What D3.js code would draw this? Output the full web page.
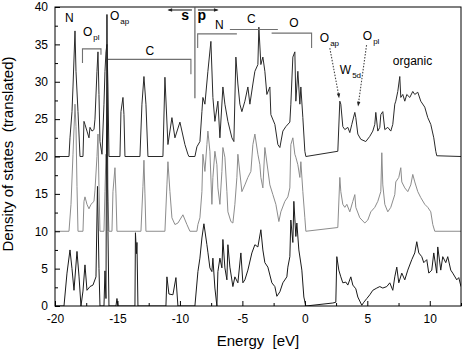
<!DOCTYPE html>
<html>
<head>
<meta charset="utf-8">
<script src="https://cdn.jsdelivr.net/npm/d3@7"></script>
<style>
  body { margin: 0; background: #fff; }
  svg text { font-family: "Liberation Sans", Arial, sans-serif; }
</style>
</head>
<body>
<svg id="dos" width="463" height="351"></svg>
<script>
// energy grid (eV) and density of states for each curve; curves are shifted by offsets
const topE = [-20,-18.88,-18.8,-18.64,-18.56,-18.4,-18.32,-18.16,-18,-17.76,-17.68,-17.6,-17.44,-17.28,-17.2,-17.04,-16.88,-16.8,-16.64,-16.56,-16.48,-16.4,-16.24,-16.08,-16,-15.92,-15.84,-15.76,-15.68,-14.8,-14.72,-14.56,-14.48,-14.4,-13.2,-13.04,-12.88,-12.72,-12.56,-11.36,-11.2,-10.96,-10.64,-10.4,-10,-9.6,-9.36,-9.28,-8.8,-8.64,-8.4,-8.24,-8.16,-8,-7.76,-7.52,-7.36,-7.2,-6.96,-6.8,-6.56,-6.4,-6.16,-5.84,-5.68,-5.52,-5.36,-5.2,-5.04,-4.8,-4.56,-4.4,-4.16,-4,-3.76,-3.68,-3.52,-3.36,-3.2,-3.04,-2.8,-2.72,-2.4,-2.16,-2,-1.76,-1.52,-1.2,-1.12,-0.96,-0.8,-0.72,-0.56,-0.4,-0.32,-0.16,0,0.08,2.64,2.8,2.88,3.04,3.2,3.44,3.6,3.76,4,4.08,4.24,4.48,4.88,5.2,5.44,5.6,5.68,5.84,6,6.08,6.24,6.4,6.64,6.88,7.04,7.2,7.28,7.44,7.6,7.68,7.84,8,8.16,8.4,8.64,8.8,9.04,9.28,9.6,9.84,10.08,10.32,10.48,10.56,12.5];
const topDos = [0,0,2.5,6,9.3,16.8,11.4,6,0,0,4.7,4.3,3.4,2.5,3.9,3.4,3.6,5,11.4,14,8.3,2,0.3,7,11.4,14,15,9.3,0,0,6,7.9,5.6,0,0,7,10.7,7,0,0,10.6,1.6,5.2,2.5,4.6,1.6,0.3,0,0,1.3,2,6,7.9,7,11.4,15.4,7.9,4.7,7.4,2.5,9.3,7,4.7,2.5,2,13.3,9.7,7,6,7.4,9.3,7,9.7,11.4,12.3,17.3,12.3,13.3,11.4,8.3,9.3,5.6,4.3,1.6,1.2,3.4,4,4.6,7,13.3,14,7.4,11.4,7,9.3,5.2,0.7,0,0.7,7.4,7,4,3.6,3.9,3.2,4.3,5.9,5.2,3,2.3,2,2.7,3.4,4.3,5.9,3.4,3.9,5.6,6,3.6,3.9,3.4,4.3,7,7.4,8.7,10.7,7.9,8.3,7.4,8.3,7.9,8.7,8.3,8.6,7.4,6.6,5.2,4.3,2.5,0.7,0.1,0];

const midE = [-20,-18.88,-18.72,-18.56,-18.4,-18.32,-18.24,-18.16,-17.76,-17.68,-17.6,-17.44,-17.28,-17.12,-16.88,-16.8,-16.64,-16.56,-16.48,-16.4,-16.08,-16,-15.92,-15.84,-15.76,-15.68,-15.44,-15.36,-15.2,-15.12,-15.04,-13.12,-12.96,-12.88,-12.8,-12.72,-11.2,-11.04,-10.96,-10.8,-10.64,-10.4,-10.16,-9.76,-9.44,-9.2,-8.64,-8.56,-8.4,-8.24,-8.16,-8,-7.84,-7.76,-7.6,-7.44,-7.36,-7.2,-7.04,-6.96,-6.8,-6.64,-6.56,-6.4,-6.24,-6.16,-5.92,-5.76,-5.6,-5.44,-5.36,-5.04,-4.8,-4.56,-4.32,-4.16,-4,-3.76,-3.6,-3.52,-3.36,-3.2,-2.8,-2.56,-2.32,-2.08,-1.92,-1.6,-1.36,-1.2,-1.12,-0.96,-0.8,-0.72,-0.56,-0.4,-0.32,-0.16,0,0.08,2.64,2.8,2.88,3.04,3.2,3.36,3.6,3.84,4,4.08,4.4,4.8,5.04,5.28,5.6,5.84,6.08,6.16,6.24,6.4,6.64,6.88,7.2,7.28,7.52,7.68,7.76,8,8.24,8.48,8.64,8.8,9.04,9.28,9.6,9.84,10.08,10.24,10.4,12.5];
const midDos = [0,0,3.6,10.3,17,14,6,0,0,4,4.6,3.6,3,3.6,4,5.5,10,13,6,0,0,5.3,10.3,8,4,0,0,5.3,8.5,5,0,0,6,9.5,5,0,0,6.2,9.3,5.3,1.8,0.9,1.1,2.2,0.9,0,0,0.9,1.8,5.3,10.3,8,11.6,13.4,10.7,3.6,7.2,10.7,8.9,5.8,3.6,8,11.2,9.9,5.3,2.6,1.3,1.1,3.6,7.2,10.3,5.3,6.2,7.2,8,11.6,13,10.3,8.9,7.2,5.8,11.2,6.2,4.9,3.6,1.3,2.6,4,4.6,5.8,11.6,12.5,10.3,9.9,8.9,7.2,9.3,5.3,1.8,0,0.5,7.2,5.3,3.6,3.2,3.6,2.6,4,4.9,3.2,1.8,1.1,1.5,2.6,3.2,4,5.3,10.5,6.2,3.6,2.6,3.2,4.9,6.6,7.2,8.5,6.6,5.8,5.3,6.2,7.6,6.6,5.3,4.5,3.6,3.2,2.6,0.9,0,0];

const botE = [-20,-19.28,-19.04,-18.8,-18.64,-18.48,-18.24,-18.08,-17.92,-17.76,-17.6,-17.44,-17.2,-16.96,-16.72,-16.6,-16.48,-16.4,-16.08,-16,-15.92,-15.84,-15.76,-15.68,-15.12,-15.04,-14.96,-13.6,-13.56,-13.48,-13.44,-13.36,-11.12,-11.04,-10.88,-10.56,-10.32,-10.16,-8.8,-8.56,-8.4,-8.24,-8.08,-7.84,-7.76,-7.6,-7.44,-7.36,-7.2,-7.04,-6.96,-6.8,-6.64,-6.56,-6.4,-6.24,-6.16,-6,-5.76,-5.6,-5.36,-5.12,-4.96,-4.8,-4.56,-4.24,-4,-3.76,-3.52,-3.36,-3.2,-2.96,-2.64,-2.4,-2.24,-2,-1.76,-1.44,-1.36,-1.2,-1.12,-0.96,-0.88,-0.72,-0.64,-0.48,-0.24,-0.08,0.08,2.24,2.48,2.56,2.72,2.88,3.04,3.28,3.44,3.68,3.84,4.08,4.24,4.56,4.72,4.96,5.2,5.44,5.76,6,6.24,6.56,6.8,7.04,7.2,7.36,7.52,7.76,8,8.24,8.56,8.8,8.96,9.12,9.36,9.52,9.76,9.92,10.16,10.32,10.56,10.64,10.88,11.04,11.28,11.44,11.68,11.84,12.16,12.32,12.5];
const botDos = [0,0,4.4,7.5,5,2.1,7.3,4,0,2,5.5,2.1,2.6,2.8,3.9,16,5,0,0,4.7,1,39,10,0,0,1,0,0,9.8,7,8.5,0,0,3.9,1.6,1.5,3.8,0,0,4.6,6.4,9.1,11,8.2,7.2,5.1,4.6,6.4,2.4,0,4.6,6.4,5.1,8.9,5.1,3.5,8.2,5.2,2.6,3.9,3.1,7.1,3.1,3.5,4.8,7.1,8.2,7.9,10.2,7.5,5.8,5.2,3.1,2.6,1.3,1.9,3.1,3.9,5.2,6.6,11.5,8.5,14,9.3,11.1,7.5,4.8,1.2,0,0.4,0.5,6.6,4.8,3.9,3.1,3.2,2.8,3.9,2.8,2.3,1.2,0.1,0.5,1,1.5,2.1,2.4,2.6,2.4,2.6,3.1,2.1,3.9,5.2,3.1,4.4,3.5,4.8,6.2,7.1,8.6,7.1,6.6,5.8,6.2,4.4,4.8,7.1,4.4,7.9,4.8,6.6,5.8,6.6,4.8,4.4,3.5,3.8,2.6];

const offsets = [20, 10, 0];
const xMajor = [-20, -15, -10, -5, 0, 5, 10];
const yMajor = [0, 5, 10, 15, 20, 25, 30, 35, 40];

const svg = d3.select("#dos"),
      margin = { top: 7, right: 2, bottom: 45, left: 55 },
      width = +svg.attr("width") - margin.left - margin.right,
      height = +svg.attr("height") - margin.top - margin.bottom;

const g = svg.append("g").attr("transform", `translate(${margin.left},${margin.top})`);

const x = d3.scaleLinear().domain([-20, 12.5]).range([0, width]);
const y = d3.scaleLinear().domain([0, 40]).range([height, 0]);

g.append("clipPath").attr("id", "clip")
  .append("rect").attr("width", width).attr("height", height);

// curves
const series = [
  { e: topE, v: topDos, off: offsets[0], color: "#2a2a2a", w: 1 },
  { e: midE, v: midDos, off: offsets[1], color: "#8c8c8c", w: 1 },
  { e: botE, v: botDos, off: offsets[2], color: "#1a1a1a", w: 1 },
];
const line = d3.line().x(d => x(d[0])).y(d => y(d[1]));
series.forEach(s => {
  g.append("path")
    .datum(s.e.map((e, i) => [e, s.v[i] + s.off]))
    .attr("clip-path", "url(#clip)")
    .attr("fill", "none")
    .attr("stroke", s.color)
    .attr("stroke-width", s.w)
    .attr("stroke-linejoin", "round")
    .attr("d", line);
});

// axes with inward ticks
const fmt = d => String(d);
g.append("g").attr("transform", `translate(0,${height})`)
  .call(d3.axisBottom(x).tickValues(xMajor).tickFormat(fmt).tickSize(-5).tickPadding(8))
  .call(a => a.select(".domain").remove());
g.append("g").attr("transform", `translate(0,${height})`)
  .call(d3.axisBottom(x).tickValues(xMajor.map(v => v + 2.5)).tickFormat("").tickSize(-3))
  .call(a => a.select(".domain").remove());
g.append("g")
  .call(d3.axisLeft(y).tickValues(yMajor).tickFormat(fmt).tickSize(-5).tickPadding(7))
  .call(a => a.select(".domain").remove());
g.append("g")
  .call(d3.axisLeft(y).tickValues(yMajor.slice(0, -1).map(v => v + 2.5)).tickFormat("").tickSize(-3))
  .call(a => a.select(".domain").remove());
g.selectAll(".tick text").style("font-size", "12px").attr("fill", "#000");

g.append("rect")
  .attr("width", width).attr("height", height)
  .attr("fill", "none").attr("stroke", "#000").attr("stroke-width", 1);

// axis titles
svg.append("text")
  .attr("x", 258).attr("y", 346)
  .attr("text-anchor", "middle")
  .style("font-size", "15px").style("white-space", "pre")
  .text("Energy  [eV]");
svg.append("text")
  .attr("transform", "translate(13,154) rotate(-90)")
  .attr("text-anchor", "middle")
  .style("font-size", "15px").style("white-space", "pre")
  .text("Density of states  (translated)");

// annotation helpers
const grey = "#707070";
function seg(pts, color, dash) {
  g.append("path")
    .attr("d", d3.line().x(d => x(d[0])).y(d => y(d[1]))(pts))
    .attr("fill", "none").attr("stroke", color || grey)
    .attr("stroke-width", 1.1)
    .attr("stroke-dasharray", dash || null);
}
function label(e, v, main, sub, anchor) {
  const t = g.append("text")
    .attr("x", x(e)).attr("y", y(v))
    .attr("text-anchor", anchor || "start")
    .style("font-size", "12px");
  t.append("tspan").text(main);
  if (sub) t.append("tspan").attr("dy", 4).attr("dx", 1).style("font-size", "8px").text(sub);
}
function arrowHead(p0, p1, size) {
  const x0 = x(p0[0]), y0 = y(p0[1]), x1 = x(p1[0]), y1 = y(p1[1]);
  const a = Math.atan2(y1 - y0, x1 - x0), s = size || 5;
  const pts = [[x1, y1],
    [x1 - s * Math.cos(a - 0.35), y1 - s * Math.sin(a - 0.35)],
    [x1 - s * Math.cos(a + 0.35), y1 - s * Math.sin(a + 0.35)]];
  g.append("path").attr("d", "M" + pts.join("L") + "Z").attr("fill", "#222");
}

// brackets, left (s) part
seg([[-17.8, 32.5], [-17.8, 34.4], [-16.32, 34.4], [-16.32, 33.6]]);
seg([[-15.76, 33], [-9.12, 33], [-9.12, 31]]);
label(-19.2, 38, "N");
label(-17.76, 36.1, "O", "pl");
label(-15.6, 38.3, "O", "ap");
label(-12.4, 33.6, "C", null, "middle");

// s | p separator and arrows
seg([[-8.8, 40], [-8.8, 27.8]], "#555");
seg([[-9.04, 39.6], [-10.9, 39.6]], "#222");
arrowHead([-9.5, 39.6], [-11.0, 39.6], 5);
seg([[-8.56, 39.6], [-7.0, 39.6]], "#222");
arrowHead([-8.0, 39.6], [-6.9, 39.6], 5);
g.append("text").attr("x", x(-9.9)).attr("y", y(38.3))
  .style("font-size", "14px").style("font-weight", "bold").text("s");
g.append("text").attr("x", x(-8.6)).attr("y", y(38.3))
  .style("font-size", "14px").style("font-weight", "bold").text("p");

// brackets, right (p) part
seg([[-8.58, 34.5], [-8.58, 36.4], [-5.44, 36.4]]);
seg([[-6.0, 37], [-2.16, 37]]);
seg([[-2.66, 36.5], [0.54, 36.5], [0.54, 34.5]]);
label(-7.2, 37, "N");
label(-4.28, 37.9, "C", null, "middle");
label(-0.88, 37.3, "O", null, "middle");

// W 5d region
label(1.2, 35.3, "O", "ap");
seg([[2.0, 34.5], [2.72, 28.1]], "#444", "1.5,1.5");
arrowHead([2.65, 29], [2.74, 27.8], 5);
label(2.8, 31, "W", "5d");
label(4.64, 35.6, "O", "pl");
seg([[4.94, 34.9], [4.3, 27.2]], "#444", "1.5,1.5");
arrowHead([4.35, 27.8], [4.26, 26.7], 5);
label(7.04, 32.2, "organic");
</script>
</body>
</html>
